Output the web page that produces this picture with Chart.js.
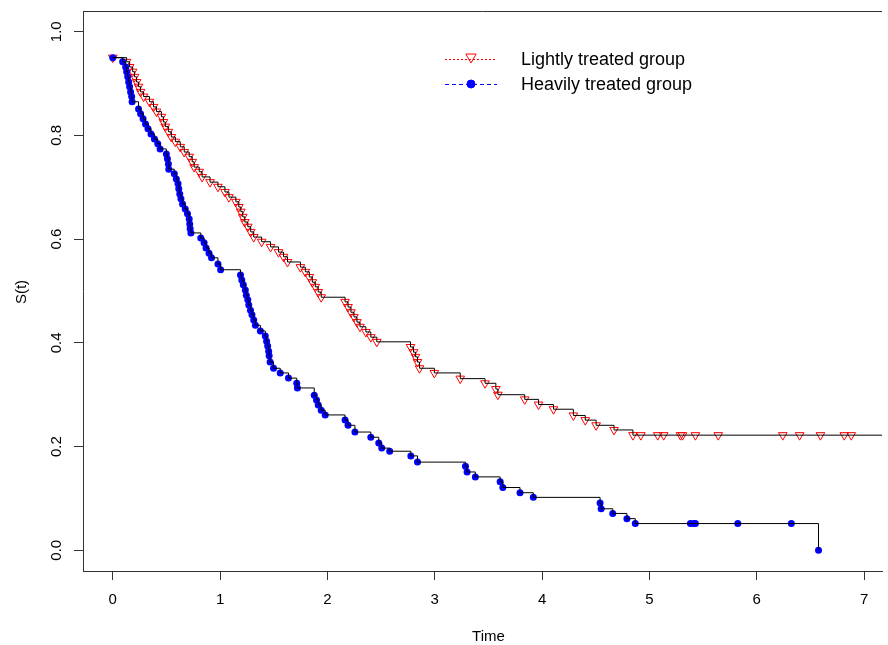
<!DOCTYPE html>
<html>
<head>
<meta charset="utf-8">
<title>Survival curves</title>
<script src="https://cdn.jsdelivr.net/npm/chart.js@4.4.1/dist/chart.umd.min.js"></script>
<style>
  html, body { margin: 0; padding: 0; background: #fff; }
  #wrap { width: 888px; height: 645px; }
</style>
</head>
<body>
<div id="wrap"><canvas id="chart" width="888" height="645"></canvas></div>
<script>
// Kaplan-Meier estimates (time, S(t))
const lightTime = [0, 0.129, 0.157, 0.185, 0.203, 0.222, 0.240, 0.259, 0.287, 0.342,
  0.379, 0.407, 0.453, 0.472, 0.490, 0.518, 0.546, 0.583, 0.629, 0.666,
  0.712, 0.740, 0.758, 0.805, 0.832, 0.906, 0.980, 1.045, 1.082, 1.147,
  1.174, 1.193, 1.211, 1.230, 1.258, 1.285, 1.313, 1.387, 1.470, 1.544,
  1.591, 1.628, 1.748, 1.794, 1.831, 1.859, 1.887, 1.914, 1.942, 2.164,
  2.192, 2.219, 2.247, 2.275, 2.303, 2.358, 2.404, 2.460, 2.774, 2.802,
  2.821, 2.839, 2.858, 2.996, 3.237, 3.468, 3.569, 3.588, 3.838, 3.967,
  4.106, 4.291, 4.402, 4.503, 4.670, 4.846, 4.920, 5.077, 5.133, 5.289,
  5.308, 5.428, 5.641, 6.242, 6.399, 6.593, 6.815, 6.880];
const lightSurv = [0.950, 0.942, 0.932, 0.923, 0.913, 0.903, 0.894, 0.884, 0.875, 0.865,
  0.855, 0.846, 0.836, 0.826, 0.817, 0.807, 0.797, 0.788, 0.778, 0.768,
  0.759, 0.749, 0.739, 0.730, 0.720, 0.710, 0.701, 0.691, 0.681, 0.672,
  0.662, 0.653, 0.643, 0.633, 0.624, 0.614, 0.604, 0.595, 0.585, 0.575,
  0.566, 0.556, 0.546, 0.537, 0.527, 0.517, 0.508, 0.498, 0.488, 0.479,
  0.469, 0.459, 0.450, 0.440, 0.431, 0.421, 0.411, 0.402, 0.392, 0.382,
  0.373, 0.363, 0.351, 0.342, 0.331, 0.322, 0.311, 0.300, 0.291, 0.281,
  0.272, 0.260, 0.251, 0.241, 0.232, 0.222, 0.222, 0.222, 0.222, 0.222,
  0.222, 0.222, 0.222, 0.222, 0.222, 0.222, 0.222, 0.222];

const heavyTime = [0, 0.092, 0.120, 0.129, 0.139, 0.148, 0.157, 0.166, 0.176, 0.180,
  0.240, 0.259, 0.282, 0.305, 0.328, 0.356, 0.388, 0.419, 0.441, 0.499,
  0.509, 0.518, 0.522, 0.573, 0.592, 0.608, 0.615, 0.624, 0.635, 0.650,
  0.675, 0.696, 0.712, 0.717, 0.721, 0.728, 0.820, 0.851, 0.869, 0.897,
  0.920, 0.980, 1.005, 1.190, 1.202, 1.216, 1.235, 1.244, 1.258, 1.267,
  1.283, 1.297, 1.313, 1.329, 1.375, 1.421, 1.433, 1.443, 1.452, 1.457,
  1.466, 1.498, 1.560, 1.637, 1.714, 1.720, 1.877, 1.898, 1.914, 1.942,
  1.979, 2.164, 2.192, 2.256, 2.404, 2.478, 2.506, 2.580, 2.777, 2.839,
  3.286, 3.301, 3.378, 3.609, 3.634, 3.794, 3.918, 4.540, 4.550, 4.658,
  4.790, 4.868, 5.382, 5.413, 5.428, 5.823, 6.322, 6.575];
const heavySurv = [0.950, 0.942, 0.932, 0.923, 0.913, 0.903, 0.894, 0.884, 0.875, 0.865,
  0.851, 0.842, 0.832, 0.822, 0.813, 0.803, 0.793, 0.784, 0.774, 0.764,
  0.755, 0.745, 0.735, 0.726, 0.716, 0.707, 0.697, 0.687, 0.678, 0.668,
  0.658, 0.649, 0.639, 0.629, 0.620, 0.612, 0.602, 0.593, 0.583, 0.573,
  0.564, 0.552, 0.541, 0.531, 0.521, 0.512, 0.502, 0.492, 0.483, 0.473,
  0.463, 0.454, 0.444, 0.434, 0.423, 0.413, 0.403, 0.394, 0.384, 0.375,
  0.363, 0.351, 0.342, 0.332, 0.322, 0.313, 0.299, 0.290, 0.280, 0.270,
  0.261, 0.251, 0.241, 0.228, 0.218, 0.207, 0.197, 0.191, 0.182, 0.170,
  0.162, 0.151, 0.1415, 0.132, 0.121, 0.111, 0.102, 0.091, 0.080, 0.071,
  0.061, 0.0515, 0.0515, 0.0515, 0.0515, 0.0515, 0.0515, 0];

const xTicks = [0, 1, 2, 3, 4, 5, 6, 7];
const yTicks = [0, 0.2, 0.4, 0.6, 0.8, 1.0];
const legendLabels = ['Lightly treated group', 'Heavily treated group'];
const xTitle = 'Time';
const yTitle = 'S(t)';

// R-style axis limits (4% extension)
const xMin = -0.2774, xMax = 7.1665;
const yMin = -0.04, yMax = 1.04;

const FONT = '"Liberation Sans", Arial, sans-serif';

function toPoints(xs, ys) {
  return xs.map((t, i) => ({ x: t, y: ys[i] }));
}

const lightPts = toPoints(lightTime, lightSurv);
const heavyPts = toPoints(heavyTime, heavySurv);
// the last step of the light group runs on to the edge of the plot
const lightLine = lightPts.concat([{ x: xMax, y: lightSurv[lightSurv.length - 1] }]);

// Draws the box top, axis texts and the legend
const basePlot = {
  id: 'basePlot',
  afterDraw(chart) {
    const { ctx, chartArea, scales } = chart;
    ctx.save();
    ctx.strokeStyle = '#333';
    ctx.lineWidth = 1;
    ctx.beginPath();
    ctx.moveTo(chartArea.left, chartArea.top + 0.5);
    ctx.lineTo(chartArea.right, chartArea.top + 0.5);
    ctx.stroke();

    ctx.fillStyle = '#000';
    ctx.font = '15px ' + FONT;
    ctx.textAlign = 'center';
    ctx.textBaseline = 'middle';
    xTicks.forEach(v => ctx.fillText(String(v), scales.x.getPixelForValue(v), 600));
    yTicks.forEach(v => {
      ctx.save();
      ctx.translate(57, scales.y.getPixelForValue(v));
      ctx.rotate(-Math.PI / 2);
      ctx.fillText(v.toFixed(1), 0, 0);
      ctx.restore();
    });
    ctx.fillText(xTitle, (chartArea.left + chartArea.right) / 2 + 6, 637);
    ctx.save();
    ctx.translate(22, 292);
    ctx.rotate(-Math.PI / 2);
    ctx.fillText(yTitle, 0, 0);
    ctx.restore();

    // legend
    const rows = [
      { y: 59, color: '#ff0000', dash: [2, 2], style: 'triangle', rot: 180, r: 6, fill: 'rgba(0,0,0,0)' },
      { y: 84, color: '#0000ff', dash: [4, 3], style: 'circle', rot: 0, r: 4, fill: '#0000ff' }
    ];
    rows.forEach((row, i) => {
      ctx.strokeStyle = row.color;
      ctx.lineWidth = 1;
      ctx.setLineDash(row.dash);
      ctx.beginPath();
      ctx.moveTo(445, row.y + 0.5);
      ctx.lineTo(497, row.y + 0.5);
      ctx.stroke();
      ctx.setLineDash([]);
      ctx.fillStyle = row.fill;
      Chart.helpers.drawPoint(ctx, {
        pointStyle: row.style, rotation: row.rot, radius: row.r, borderWidth: 1
      }, 471, row.style === 'triangle' ? row.y - 2 : row.y);
      ctx.fillStyle = '#000';
      ctx.font = '18px ' + FONT;
      ctx.textAlign = 'left';
      ctx.fillText(legendLabels[i], 521, row.y + 1);
    });
    ctx.restore();
  }
};

const axisCommon = {
  type: 'linear',
  ticks: { display: false },
  grid: { drawOnChartArea: false, drawTicks: true, tickLength: 9, color: '#333', lineWidth: 1 },
  border: { display: true, color: '#333', width: 1 }
};

new Chart(document.getElementById('chart'), {
  type: 'scatter',
  data: {
    datasets: [
      {
        label: 'light step',
        data: lightLine,
        showLine: true,
        stepped: true,
        borderColor: '#000',
        borderWidth: 1,
        pointRadius: 0,
        order: 0
      },
      {
        label: 'heavy step',
        data: heavyPts,
        showLine: true,
        stepped: true,
        borderColor: '#000',
        borderWidth: 1,
        pointRadius: 0,
        order: 0
      },
      {
        label: legendLabels[0],
        data: lightPts,
        showLine: false,
        pointStyle: 'triangle',
        rotation: 180,
        pointRadius: 5,
        pointBorderWidth: 1,
        pointBorderColor: '#ff0000',
        pointBackgroundColor: 'rgba(0,0,0,0)',
        order: 2
      },
      {
        label: legendLabels[1],
        data: heavyPts,
        showLine: false,
        pointStyle: 'circle',
        pointRadius: 3.5,
        pointBorderWidth: 0,
        pointBorderColor: '#0000ff',
        pointBackgroundColor: '#0000ff',
        order: 1
      }
    ]
  },
  options: {
    responsive: false,
    animation: false,
    devicePixelRatio: 1,
    layout: { padding: { top: 11, left: 0, right: 0, bottom: 0 } },
    plugins: { legend: { display: false }, tooltip: { enabled: false } },
    scales: {
      x: Object.assign({}, axisCommon, {
        min: xMin, max: xMax,
        afterBuildTicks: s => { s.ticks = xTicks.map(v => ({ value: v })); },
        afterFit: s => { s.height = 74; }
      }),
      y: Object.assign({}, axisCommon, {
        min: yMin, max: yMax,
        afterBuildTicks: s => { s.ticks = yTicks.map(v => ({ value: v })); },
        afterFit: s => { s.width = 83; }
      })
    }
  },
  plugins: [basePlot]
});
</script>
</body>
</html>
